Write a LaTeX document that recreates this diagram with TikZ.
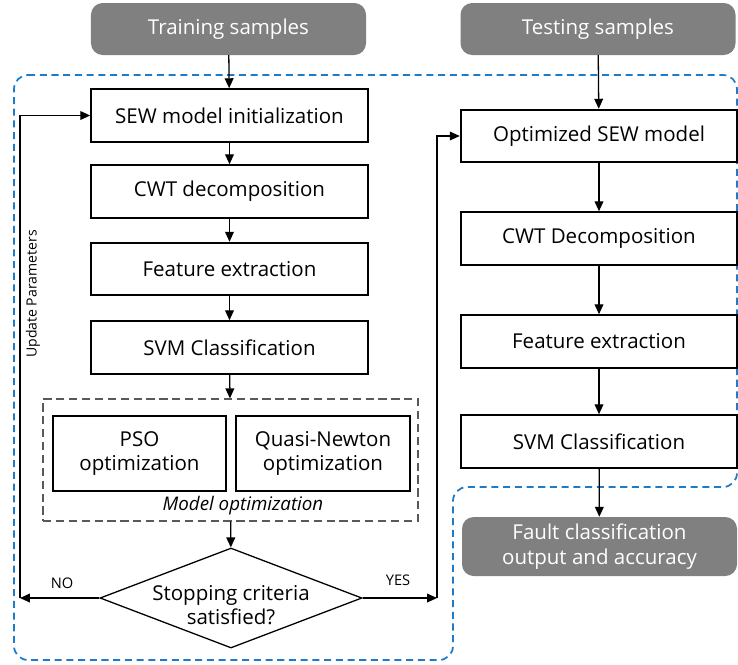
\documentclass[tikz,border=0pt]{standalone}
\usepackage{fontspec}
\setmainfont{Open Sans}
\usetikzlibrary{shapes.geometric, arrows.meta}
\definecolor{darkgray}{HTML}{808080}
\definecolor{outline}{HTML}{1E7BC8}

\begin{document}
\begin{tikzpicture}[x=0.03cm, y=-0.03cm, >={Triangle[length=8.5pt,width=7.5pt]},
  step box/.style={draw, line width=1.6pt, minimum width=8.3cm, minimum height=1.58cm, font=\fontsize{17.5}{21}\selectfont},
  sample/.style={fill=darkgray, rounded corners=10pt, text=white, minimum width=8.25cm, minimum height=1.56cm, align=center, font=\fontsize{17.5}{21}\selectfont},
  small box/.style={draw, line width=1.6pt, minimum width=5.2cm, minimum height=2.25cm, align=center, font=\fontsize{17.5}{21}\selectfont},
  flow/.style={->, line width=1.1pt}]

\useasboundingbox (0,0) rectangle (738,664);

% blue region of the training stage
\draw[outline, line width=1.5pt, dash pattern=on 6pt off 4pt, rounded corners=12pt]
 (14,75) -- (737,75) -- (737,487) -- (453,487) -- (453,660) -- (14,660) -- cycle;

% samples
\node[sample] (train) at (228.5,29) {Training samples};
\node[sample] (test) at (598,29) {Testing samples};

% training column
\node[step box] (init) at (229.5,115.5) {SEW model initialization};
\node[step box] (cwt) at (229.5,191.5) {CWT decomposition};
\node[step box] (feat) at (229.5,269) {Feature extraction};
\node[step box] (svm) at (229.5,347.5) {SVM Classification};

\node[draw, dash pattern=on 7pt off 4pt, line width=1.1pt, gray!70!black, minimum width=11.25cm, minimum height=3.66cm] (opt) at (230.5,460) {};
\node[small box] (pso) at (139.5,453.5) {PSO\\optimization};
\node[small box] (qn) at (323,453.5) {Quasi-Newton\\optimization};
\node[font=\fontsize{16}{19}\selectfont\itshape] (optlabel) at (243,506) {Model optimization};

\node[draw, diamond, line width=1.1pt, aspect=2.62, minimum width=7.86cm, minimum height=3cm, inner sep=0pt] (stop) at (231,598) {};
\node[align=center, font=\fontsize{17.5}{21}\selectfont] (stoptext) at (231,605) {Stopping criteria\\satisfied?};

% testing column
\node[step box] (osew) at (599,136) {Optimized SEW model};
\node[step box] (tcwt) at (599,238.5) {CWT Decomposition};
\node[step box] (tfeat) at (599,341.5) {Feature extraction};
\node[step box] (tsvm) at (599,441.5) {SVM Classification};
\node[sample, minimum height=1.77cm] (fault) at (599.5,546.5) {Fault classification\\output and accuracy};

\coordinate (nocorner) at (20,598);
\coordinate (yescorner) at (437,598);

\foreach \a/\b in {train/init, init/cwt, cwt/feat, feat/svm, svm/opt, opt/stop, test/osew, osew/tcwt, tcwt/tfeat, tfeat/tsvm, tsvm/fault}
\draw[flow] (\a) -- (\b);

\draw[flow] (stop.west) -- (nocorner);
\draw[flow] (nocorner) |- (init.west);
\draw[flow] (stop.east) -- (yescorner);
\draw[flow] (yescorner) |- (osew.west);

\node[font=\fontsize{12.5}{15}\selectfont] (no) at (62,583) {NO};
\node[font=\fontsize{12.5}{15}\selectfont] (yes) at (398,580) {YES};
\node[rotate=90, font=\fontsize{12}{14}\selectfont] (update) at (33,294) {Update Parameters};

\end{tikzpicture}
\end{document}
